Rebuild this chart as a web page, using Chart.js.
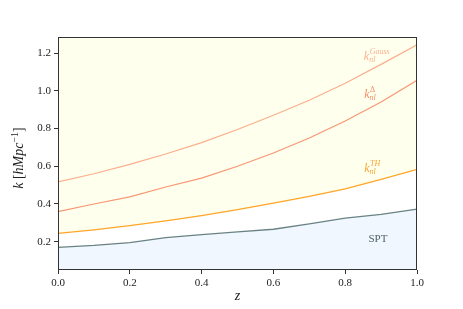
<!DOCTYPE html>
<html>
<head>
<meta charset="utf-8">
<script src="https://cdn.jsdelivr.net/npm/chart.js@4"></script>
<style>
  html, body { margin: 0; padding: 0; background: #fff; }
  #wrap { width: 463px; height: 309px; }
</style>
</head>
<body>
<div id="wrap"><canvas id="kChart" width="463" height="309"></canvas></div>
<script>
// redshift grid
const zvals = [0.0, 0.1, 0.2, 0.3, 0.4, 0.5, 0.6, 0.7, 0.8, 0.9, 1.0];
// k values
const kSPT   = [0.170, 0.180, 0.195, 0.222, 0.238, 0.252, 0.266, 0.295, 0.325, 0.345, 0.373];
const kTH    = [0.244, 0.263, 0.285, 0.310, 0.338, 0.370, 0.404, 0.440, 0.480, 0.530, 0.583];
const kDelta = [0.359, 0.400, 0.438, 0.490, 0.537, 0.600, 0.670, 0.750, 0.840, 0.940, 1.056];
const kGauss = [0.517, 0.560, 0.610, 0.665, 0.725, 0.795, 0.870, 0.950, 1.040, 1.140, 1.244];
const xTicks = [0.0, 0.2, 0.4, 0.6, 0.8, 1.0];
const yTicks = [0.2, 0.4, 0.6, 0.8, 1.0, 1.2];

const serif = '"Liberation Serif", "DejaVu Serif", serif';

function pts(ys) {
  return zvals.map((z, i) => ({ x: z, y: ys[i] }));
}

// curve labels, in data coordinates (left edge, baseline of k)
const curveLabels = [
  { x: 0.852, y: 1.161, sup: 'Gauss', color: 'rgba(250,150,115,0.75)' },
  { x: 0.853, y: 0.960, sup: '\u0394',  color: 'rgb(245,140,105)' },
  { x: 0.853, y: 0.569, sup: 'TH',     color: 'rgb(250,165,50)' },
];

const extras = {
  id: 'extras',
  afterDraw(chart) {
    const ctx = chart.ctx;
    const a = chart.chartArea;
    const xs = chart.scales.x, ys = chart.scales.y;
    ctx.save();
    // frame
    ctx.strokeStyle = '#333';
    ctx.lineWidth = 1;
    ctx.strokeRect(a.left + 0.5, a.top + 0.5, a.right - a.left - 1, a.bottom - a.top - 1);

    // curve labels
    ctx.textBaseline = 'alphabetic';
    curveLabels.forEach(l => {
      const px = xs.getPixelForValue(l.x);
      const py = ys.getPixelForValue(l.y);
      ctx.fillStyle = l.color;
      ctx.font = 'italic 12px ' + serif;
      ctx.textAlign = 'left';
      ctx.fillText('k', px, py);
      const w = ctx.measureText('k').width;
      ctx.font = (l.sup === '\u0394' ? '' : 'italic ') + '8px ' + serif;
      ctx.fillText(l.sup, px + w + 0.5, py - 6);
      ctx.font = 'italic 8px ' + serif;
      ctx.fillText('nl', px + w, py + 2);
    });

    // SPT label
    ctx.fillStyle = 'rgb(80,100,100)';
    ctx.font = '11px ' + serif;
    ctx.textAlign = 'center';
    ctx.fillText('SPT', xs.getPixelForValue(0.891), ys.getPixelForValue(0.2));

    // x title
    ctx.fillStyle = '#222';
    ctx.font = 'italic 14px ' + serif;
    ctx.fillText('z', (a.left + a.right) / 2, 300);

    // y title: k [hMpc^-1]
    const parts = [
      { t: 'k', f: 'italic 14px ', dy: 0 },
      { t: ' [', f: '14px ', dy: 0 },
      { t: 'hMpc', f: 'italic 14px ', dy: 0 },
      { t: '\u22121', f: '10px ', dy: -5 },
      { t: ']', f: '14px ', dy: 0 },
    ];
    let total = 0;
    parts.forEach(p => { ctx.font = p.f + serif; p.w = ctx.measureText(p.t).width; total += p.w; });
    ctx.translate(23, 158);
    ctx.rotate(-Math.PI / 2);
    ctx.textAlign = 'left';
    let cx = -total / 2;
    parts.forEach(p => {
      ctx.font = p.f + serif;
      ctx.fillText(p.t, cx, p.dy);
      cx += p.w;
    });
    ctx.restore();
  }
};

const ctx = document.getElementById('kChart').getContext('2d');
const kChart = new Chart(ctx, {
  type: 'line',
  data: {
    datasets: [{
      label: 'SPT',
      data: pts(kSPT),
      borderColor: 'rgba(47,79,79,0.7)',
      backgroundColor: 'rgb(240,247,255)',
      fill: 'start',
      borderWidth: 1.3
    }, {
      label: 'TH',
      data: pts(kTH),
      borderColor: 'rgb(255,165,40)',
      backgroundColor: 'rgb(255,255,238)',
      fill: 'end',
      borderWidth: 1.3
    }, {
      label: 'Delta',
      data: pts(kDelta),
      borderColor: 'rgb(248,150,115)',
      fill: false,
      borderWidth: 1.2
    }, {
      label: 'Gauss',
      data: pts(kGauss),
      borderColor: 'rgba(250,160,125,0.85)',
      fill: false,
      borderWidth: 1.2
    }]
  },
  options: {
    responsive: false,
    animation: false,
    devicePixelRatio: 1,
    layout: { padding: { left: 0, right: 46, top: 37, bottom: 0 } },
    elements: { point: { radius: 0 }, line: { tension: 0 } },
    plugins: {
      legend: { display: false },
      tooltip: { enabled: false },
      filler: { drawTime: 'beforeDatasetsDraw' }
    },
    scales: {
      x: {
        type: 'linear',
        min: 0, max: 1,
        afterBuildTicks: s => { s.ticks = xTicks.map(v => ({ value: v })); },
        afterFit: s => { s.height = 39; },
        grid: { drawOnChartArea: false, tickLength: 4, color: '#333' },
        border: { display: false },
        ticks: {
          color: '#222', padding: 3,
          font: { family: serif, size: 11 },
          callback: v => v.toFixed(1)
        }
      },
      y: {
        type: 'linear',
        min: 0.05, max: 1.285,
        afterBuildTicks: s => { s.ticks = yTicks.map(v => ({ value: v })); },
        afterFit: s => { s.width = 58; },
        grid: { drawOnChartArea: false, tickLength: 4, color: '#333' },
        border: { display: false },
        ticks: {
          color: '#222', padding: 3,
          font: { family: serif, size: 11 },
          callback: v => v.toFixed(1)
        }
      }
    }
  },
  plugins: [extras]
});
</script>
</body>
</html>
